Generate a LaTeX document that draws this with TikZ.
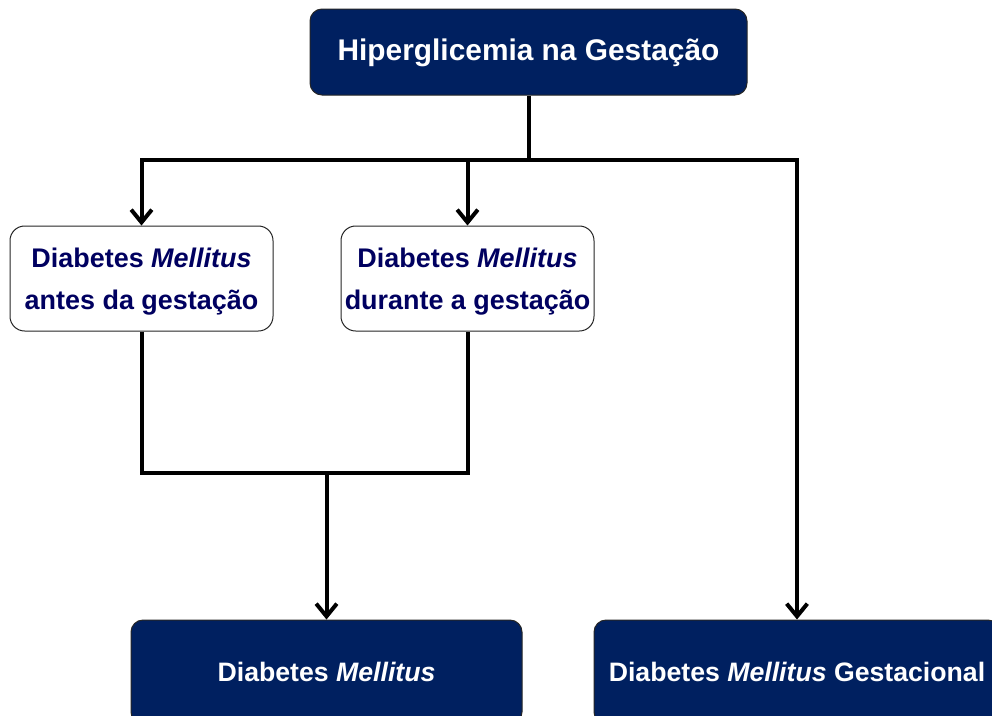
\documentclass[tikz,border=0pt]{standalone}
\usepackage{fontspec}
\setmainfont{Liberation Sans}
\usetikzlibrary{arrows.meta}
\definecolor{navybox}{RGB}{0,32,96}
\definecolor{navytext}{RGB}{0,0,96}
\begin{document}
\begin{tikzpicture}[x=0.75pt,y=-0.75pt,
  darkbox/.style={draw=black!85,line width=0.75pt,fill=navybox,text=white,rounded corners=9pt,inner sep=0pt,
    font=\fontsize{20}{24}\selectfont\bfseries},
  lightbox/.style={draw=black!85,line width=0.75pt,fill=white,text=navytext,rounded corners=11pt,inner sep=0pt,
    align=center,minimum height=78.75pt,text depth=0pt,font=\fontsize{20.2}{31.5}\selectfont\bfseries},
  conn/.style={line width=3pt,line join=miter},
  arr/.style={conn,-{Straight Barb[length=9.5pt,width=15.5pt,line width=3pt]}}]
\useasboundingbox (0,0) rectangle (992,715);
\clip (0,0) rectangle (992,715);
\node[darkbox,minimum width=327.75pt,minimum height=64.5pt,text depth=3pt,font=\fontsize{22.4}{26}\selectfont\bfseries] (top) at (528.5,52) {Hiperglicemia na Gesta\c{c}\~ao};
\node[lightbox,minimum width=197.25pt] (left) at (141.5,278.5) {Diabetes \textit{Mellitus}\\antes da gesta\c{c}\~ao};
\node[lightbox,minimum width=189.75pt] (mid) at (467.5,278.5) {Diabetes \textit{Mellitus}\\durante a gesta\c{c}\~ao};
\node[darkbox,minimum width=293.25pt,minimum height=78pt] (dm) at (326.5,672) {Diabetes \textit{Mellitus}};
\node[darkbox,minimum width=304.5pt,minimum height=78pt] (dmg) at (797,672) {Diabetes \textit{Mellitus} Gestacional};
\coordinate (j) at (528.5,160);
\coordinate (k) at (326.5,473);
\draw[conn] (top.south) -- (j);
\draw[arr] (j) -| (left.north);
\draw[arr] (j) -| (mid.north);
\draw[arr] (j) -| (dmg.north);
\draw[conn] (left.south) |- (k) -| (mid.south);
\draw[arr] (k) -- (dm.north);
\end{tikzpicture}
\end{document}
